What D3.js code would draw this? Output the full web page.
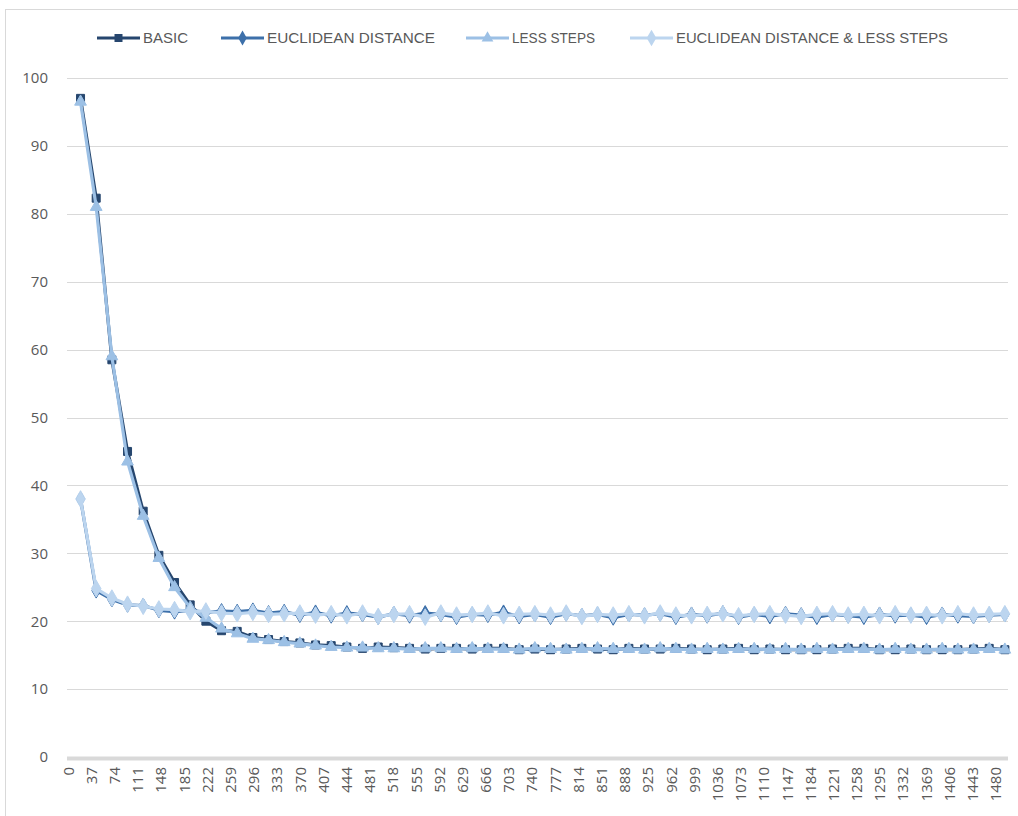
<!DOCTYPE html>
<html><head><meta charset="utf-8">
<script src="https://cdn.jsdelivr.net/npm/d3@7"></script>
<style>body{margin:0;background:#fff}svg{display:block}</style>
</head><body>
<svg id="c" width="1018" height="816"></svg>
<script>
const xTickLabels = [0,37,74,111,148,185,222,259,296,333,370,407,444,481,518,555,592,629,666,703,740,777,814,851,888,925,962,999,1036,1073,1110,1147,1184,1221,1258,1295,1332,1369,1406,1443,1480];
const yTicks = [0,10,20,30,40,50,60,70,80,90,100];
const iterations = [20,45,70,95,120,145,170,195,220,245,270,295,320,345,370,395,420,445,470,495,520,545,570,595,620,645,670,695,720,745,770,795,820,845,870,895,920,945,970,995,1020,1045,1070,1095,1120,1145,1170,1195,1220,1245,1270,1295,1320,1345,1370,1395,1420,1445,1470,1495];
const seriesNames = ["BASIC","EUCLIDEAN DISTANCE","LESS STEPS","EUCLIDEAN DISTANCE & LESS STEPS"];
const basic = [97,82.3,58.5,45,36.2,29.7,25.7,22.4,20,18.6,18.5,17.6,17.3,17.0,16.8,16.5,16.4,16.2,16.0,16.2,16.1,16.0,15.9,16.0,16.0,15.9,16.0,16.0,15.8,15.9,15.8,15.9,16.0,15.9,15.8,16.0,15.9,15.9,16.0,15.9,15.8,15.9,16.0,15.8,15.9,15.8,15.8,15.8,15.9,16.0,16.0,15.8,15.8,15.9,15.8,15.8,15.8,15.9,16.0,15.8];
const euclidean = [38,24.5,23.2,22.4,22.3,21.6,21.4,21.6,21.3,21.5,21.4,21.6,21.2,21.4,20.9,21.3,20.8,21.2,21.0,20.6,21.1,20.8,21.2,21.0,20.6,21.0,20.9,21.3,20.7,21.0,20.6,21.1,20.8,21.0,20.5,21.0,20.9,21.1,20.6,21.0,20.8,21.2,20.6,21.0,20.7,21.1,20.9,20.6,21.0,20.8,20.6,21.0,20.8,20.9,20.6,21.0,20.8,20.7,20.9,21.0];
const lessSteps = [96.5,81,59,43.5,35.5,29.3,25,22,20.5,18.9,18.2,17.4,17.2,16.9,16.7,16.4,16.2,16.1,16.1,16.0,16.0,15.9,16.0,16.0,15.9,16.0,15.9,15.9,15.8,16.0,15.9,15.8,15.9,16.0,15.9,15.9,15.8,16.0,15.9,15.8,15.9,15.8,15.9,15.9,15.8,15.9,15.8,15.9,15.8,15.9,15.9,15.8,15.9,15.8,15.8,15.9,15.8,15.8,15.9,15.8];
const euclideanLess = [38,24.8,23.4,22.5,22.2,21.8,21.7,21.4,21.5,21.2,21.1,21.3,21.0,21.1,21.2,20.9,21.1,20.8,21.2,20.7,21.0,21.1,20.6,21.2,20.9,21.0,21.2,20.8,21.0,21.1,20.9,21.2,20.7,21.0,20.9,21.1,20.8,21.2,20.9,20.8,21.0,21.1,20.8,21.0,21.1,20.9,20.7,21.0,21.1,20.9,21.0,20.8,21.1,20.9,21.0,20.8,21.1,20.9,21.0,21.1];

const colors = ["#26466e","#3d70aa","#9cc0e5","#bcd5ef"];
const symbols = [d3.symbolSquare, d3.symbolDiamond, d3.symbolTriangle, d3.symbolDiamond];
const symSizes = [64, 64, 60, 80];
const allSeries = [basic, euclidean, lessSteps, euclideanLess];

const svg = d3.select("#c");
const L = 67, R = 1008, T = 78, B = 757;
const x = d3.scaleLinear().domain([0,1500]).range([68,1008]);
const y = d3.scaleLinear().domain([0,100]).range([B,T]);

// frame
svg.append("line").attr("x1",5.5).attr("x2",5.5).attr("y1",9).attr("y2",816).attr("stroke","#d9d9d9");
svg.append("line").attr("x1",5).attr("x2",1018).attr("y1",9.5).attr("y2",9.5).attr("stroke","#d9d9d9");

// gridlines
svg.append("g").selectAll("line").data(yTicks.filter(d=>d>0)).join("line")
  .attr("x1",L).attr("x2",R).attr("y1",d=>Math.round(y(d))+0.5).attr("y2",d=>Math.round(y(d))+0.5)
  .attr("stroke","#d9d9d9").attr("stroke-width",1);

// y axis labels
const yAxis = d3.axisLeft(y).tickValues(yTicks).tickFormat(d3.format("d")).tickSize(0).tickPadding(0);
const gy = svg.append("g").attr("transform",`translate(48,0)`).call(yAxis);
gy.select(".domain").remove();
gy.selectAll("text").attr("font-family","Open Sans, sans-serif").attr("font-size",15).attr("fill","#595959").attr("dy","0.32em");

// x axis line (thick)
svg.append("line").attr("x1",L).attr("x2",R).attr("y1",B+1.5).attr("y2",B+1.5).attr("stroke","#d9d9d9").attr("stroke-width",4);

// x labels
const xAxis = d3.axisBottom(x).tickValues(xTickLabels).tickFormat(d3.format("d")).tickSize(0).tickPadding(0);
const gx = svg.append("g").attr("transform",`translate(0,${B+10})`).call(xAxis);
gx.select(".domain").remove();
gx.selectAll("text").attr("font-family","Open Sans, sans-serif").attr("font-size",15).attr("fill","#595959")
  .attr("text-anchor","end").attr("dy","0.35em").attr("dx",0).attr("y",0)
  .attr("transform","rotate(-90)");

// series
const line = d3.line().x((d,i)=>x(iterations[i])).y(d=>y(d));
allSeries.forEach((s,k)=>{
  const g = svg.append("g");
  g.append("path").datum(s).attr("d",line).attr("fill","none").attr("stroke",colors[k]).attr("stroke-width",3.2).attr("stroke-linejoin","round");
  g.selectAll("path.m").data(s).join("path").attr("class","m")
    .attr("d",d3.symbol().type(symbols[k]).size(symSizes[k]))
    .attr("transform",(d,i)=>`translate(${x(iterations[i])},${y(d)})`)
    .attr("fill",colors[k]).attr("stroke",colors[k]).attr("stroke-width",1);
});

// legend
const legX = [97,221,466,630];
const textW = [45,168,83,272];
const lg = svg.append("g");
seriesNames.forEach((n,k)=>{
  const g = lg.append("g").attr("transform",`translate(${legX[k]},38)`);
  g.append("line").attr("x1",0).attr("x2",43).attr("y1",0).attr("y2",0).attr("stroke",colors[k]).attr("stroke-width",3.2);
  g.append("path").attr("d",d3.symbol().type(symbols[k]).size(symSizes[k])).attr("transform","translate(21.5,0)").attr("fill",colors[k]);
  g.append("text").attr("x",46).attr("y",0).attr("dy","0.36em").text(n)
    .attr("font-family","Liberation Sans Narrow, Arial Narrow, sans-serif").attr("font-size",15).attr("fill","#595959")
    .attr("textLength",textW[k]).attr("lengthAdjust","spacingAndGlyphs");
});
</script>
</body></html>
